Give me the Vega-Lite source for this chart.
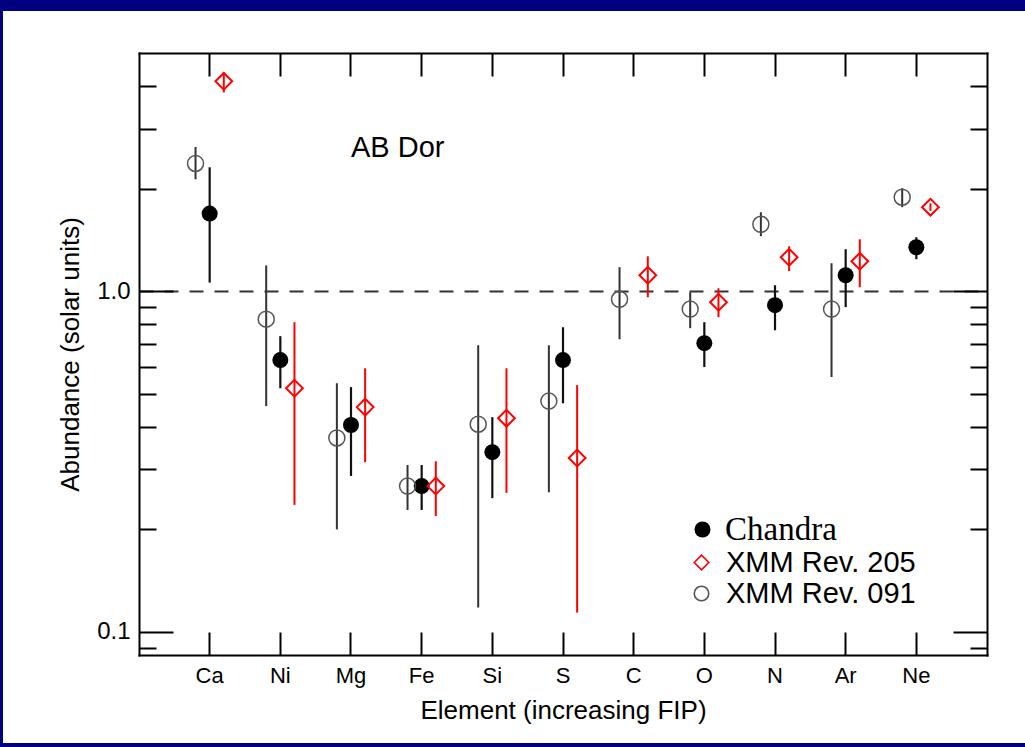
{
  "$schema": "https://vega.github.io/schema/vega-lite/v6.json",
  "width": 1022,
  "height": 732,
  "autosize": "none",
  "padding": {"left": 3, "top": 11, "right": 0, "bottom": 4},
  "background": "#000080",
  "config": {
    "view": {"fill": "white", "stroke": null},
    "font": "Liberation Sans",
    "axis": {"labelColor": "black", "tickColor": "black", "domainColor": "black", "titleColor": "black", "labelFont": "Liberation Sans", "titleFont": "Liberation Sans", "titleFontWeight": "normal", "domainWidth": 2, "tickWidth": 2, "domainCap": "square", "grid": false},
    "legend": {"labelColor": "black", "labelLimit": 400, "padding": 0}
  },
  "data": {"values": [
    {"element": "Ca", "series": "Chandra", "value": 1.69, "lo": 1.06, "hi": 2.31},
    {"element": "Ca", "series": "XMM Rev. 091", "value": 2.37, "lo": 2.13, "hi": 2.65},
    {"element": "Ca", "series": "XMM Rev. 205", "value": 4.13, "lo": 3.83, "hi": 4.39},
    {"element": "Ni", "series": "Chandra", "value": 0.628, "lo": 0.519, "hi": 0.738},
    {"element": "Ni", "series": "XMM Rev. 091", "value": 0.828, "lo": 0.46, "hi": 1.19},
    {"element": "Ni", "series": "XMM Rev. 205", "value": 0.519, "lo": 0.236, "hi": 0.811},
    {"element": "Mg", "series": "Chandra", "value": 0.405, "lo": 0.287, "hi": 0.523},
    {"element": "Mg", "series": "XMM Rev. 091", "value": 0.371, "lo": 0.2, "hi": 0.537},
    {"element": "Mg", "series": "XMM Rev. 205", "value": 0.457, "lo": 0.315, "hi": 0.594},
    {"element": "Fe", "series": "Chandra", "value": 0.268, "lo": 0.228, "hi": 0.309},
    {"element": "Fe", "series": "XMM Rev. 091", "value": 0.268, "lo": 0.228, "hi": 0.309},
    {"element": "Fe", "series": "XMM Rev. 205", "value": 0.268, "lo": 0.219, "hi": 0.317},
    {"element": "Si", "series": "Chandra", "value": 0.337, "lo": 0.247, "hi": 0.427},
    {"element": "Si", "series": "XMM Rev. 091", "value": 0.407, "lo": 0.118, "hi": 0.694},
    {"element": "Si", "series": "XMM Rev. 205", "value": 0.424, "lo": 0.256, "hi": 0.594},
    {"element": "S", "series": "Chandra", "value": 0.628, "lo": 0.469, "hi": 0.784},
    {"element": "S", "series": "XMM Rev. 091", "value": 0.476, "lo": 0.257, "hi": 0.694},
    {"element": "S", "series": "XMM Rev. 205", "value": 0.324, "lo": 0.114, "hi": 0.53},
    {"element": "C", "series": "XMM Rev. 091", "value": 0.947, "lo": 0.723, "hi": 1.176},
    {"element": "C", "series": "XMM Rev. 205", "value": 1.114, "lo": 0.96, "hi": 1.266},
    {"element": "O", "series": "Chandra", "value": 0.704, "lo": 0.599, "hi": 0.811},
    {"element": "O", "series": "XMM Rev. 091", "value": 0.886, "lo": 0.779, "hi": 0.993},
    {"element": "O", "series": "XMM Rev. 205", "value": 0.928, "lo": 0.839, "hi": 1.02},
    {"element": "N", "series": "Chandra", "value": 0.91, "lo": 0.768, "hi": 1.041},
    {"element": "N", "series": "XMM Rev. 091", "value": 1.572, "lo": 1.45, "hi": 1.705},
    {"element": "N", "series": "XMM Rev. 205", "value": 1.258, "lo": 1.145, "hi": 1.355},
    {"element": "Ar", "series": "Chandra", "value": 1.114, "lo": 0.898, "hi": 1.328},
    {"element": "Ar", "series": "XMM Rev. 091", "value": 0.886, "lo": 0.56, "hi": 1.208},
    {"element": "Ar", "series": "XMM Rev. 205", "value": 1.224, "lo": 1.027, "hi": 1.42},
    {"element": "Ne", "series": "Chandra", "value": 1.346, "lo": 1.241, "hi": 1.44},
    {"element": "Ne", "series": "XMM Rev. 091", "value": 1.887, "lo": 1.764, "hi": 2.005},
    {"element": "Ne", "series": "XMM Rev. 205", "value": 1.764, "lo": 1.72, "hi": 1.81}
  ]},
  "resolve": {"axis": {"x": "independent", "y": "independent"}},
  "layer": [
    {
      "transform": [{"filter": "datum.series == 'Chandra'"}],
      "mark": {"type": "rule", "color": "#111111", "strokeWidth": 2.2},
      "encoding": {
        "x": {"field": "element", "type": "nominal", "bandPosition": 0.5,
          "scale": {"type": "band", "domain": ["Ca", "Ni", "Mg", "Fe", "Si", "S", "C", "O", "N", "Ar", "Ne"], "range": [136, 984], "paddingInner": 0, "paddingOuter": 0.5},
          "axis": {"orient": "bottom", "offset": -88, "tickSize": -23, "labelAngle": 0, "labelFontSize": 22, "labelPadding": 33, "title": "Element (increasing FIP)", "titleFontSize": 26, "titlePadding": 11}},
        "y": {"field": "lo", "type": "quantitative",
          "scale": {"type": "log", "domain": [0.0856, 5], "range": [644, 42], "nice": false},
          "axis": {"orient": "left", "offset": -136, "values": [0.1, 1], "format": ".1f", "tickSize": -34, "labelFontSize": 24, "labelPadding": 43, "title": "Abundance (solar units)", "titleFontSize": 26, "titlePadding": 13}},
        "y2": {"field": "hi"}
      }
    },
    {
      "transform": [{"filter": "datum.series == 'Chandra'"}],
      "mark": {"type": "point", "shape": "circle", "filled": true, "size": 256, "strokeWidth": 0, "opacity": 1},
      "encoding": {
        "x": {"field": "element", "type": "nominal", "bandPosition": 0.5,
          "axis": {"orient": "top", "offset": -42, "tickSize": -23, "labels": false, "title": null}},
        "y": {"field": "value", "type": "quantitative",
          "axis": {"orient": "left", "offset": -136, "values": [0.09, 0.2, 0.3, 0.4, 0.5, 0.6, 0.7, 0.8, 0.9, 2, 3, 4], "tickSize": -17, "labels": false, "domain": false, "title": null}},
        "fill": {"field": "series", "type": "nominal",
          "scale": {"domain": ["Chandra"], "range": ["black"]},
          "legend": {"orient": "none", "legendX": 683, "legendY": 502, "title": null, "labelFont": "Liberation Serif", "labelFontSize": 33, "symbolSize": 256, "labelOffset": 6}}
      }
    },
    {
      "transform": [{"filter": "datum.series == 'XMM Rev. 205'"}],
      "mark": {"type": "rule", "color": "#ff0000", "strokeWidth": 2},
      "encoding": {
        "x": {"field": "element", "type": "nominal", "bandPosition": 0.7, "axis": null},
        "y": {"field": "lo", "type": "quantitative",
          "axis": {"orient": "right", "offset": -38, "values": [0.1, 1], "tickSize": -34, "labels": false, "title": null}},
        "y2": {"field": "hi"}
      }
    },
    {
      "transform": [{"filter": "datum.series == 'XMM Rev. 205'"}],
      "mark": {"type": "point", "filled": false, "size": 280, "strokeWidth": 2, "opacity": 1},
      "encoding": {
        "x": {"field": "element", "type": "nominal", "bandPosition": 0.7, "axis": null},
        "y": {"field": "value", "type": "quantitative",
          "axis": {"orient": "right", "offset": -38, "values": [0.09, 0.2, 0.3, 0.4, 0.5, 0.6, 0.7, 0.8, 0.9, 2, 3, 4], "tickSize": -17, "labels": false, "domain": false, "title": null}},
        "shape": {"field": "series", "type": "nominal", "scale": {"domain": ["XMM Rev. 205", "XMM Rev. 091"], "range": ["diamond", "circle"]},
          "legend": {"orient": "none", "legendX": 684, "legendY": 537, "title": null, "labelFont": "Liberation Sans", "labelFontSize": 29, "symbolSize": 210, "symbolStrokeWidth": 1.6, "labelOffset": 10, "rowPadding": 1}},
        "stroke": {"field": "series", "type": "nominal", "scale": {"domain": ["XMM Rev. 205", "XMM Rev. 091"], "range": ["#ff0000", "#555555"]},
          "legend": {"orient": "none", "legendX": 684, "legendY": 537, "title": null, "labelFont": "Liberation Sans", "labelFontSize": 29, "symbolSize": 210, "symbolStrokeWidth": 1.6, "labelOffset": 10, "rowPadding": 1}}
      }
    },
    {
      "transform": [{"filter": "datum.series == 'XMM Rev. 091'"}],
      "mark": {"type": "rule", "color": "#333333", "strokeWidth": 2},
      "encoding": {
        "x": {"field": "element", "type": "nominal", "bandPosition": 0.3, "axis": null},
        "y": {"field": "lo", "type": "quantitative",
          "axis": {"orient": "left", "offset": -136, "values": [1], "grid": true, "gridDash": [14, 11], "gridColor": "#333333", "gridWidth": 2, "gridOpacity": 1, "ticks": false, "labels": false, "domain": false, "title": null}},
        "y2": {"field": "hi"}
      }
    },
    {
      "transform": [{"filter": "datum.series == 'XMM Rev. 091'"}],
      "mark": {"type": "point", "filled": false, "size": 256, "strokeWidth": 1.5, "opacity": 1},
      "encoding": {
        "x": {"field": "element", "type": "nominal", "bandPosition": 0.3, "axis": null},
        "y": {"field": "value", "type": "quantitative", "axis": null},
        "shape": {"field": "series", "type": "nominal", "scale": {"domain": ["XMM Rev. 205", "XMM Rev. 091"], "range": ["diamond", "circle"]},
          "legend": {"orient": "none", "legendX": 684, "legendY": 537, "title": null, "labelFont": "Liberation Sans", "labelFontSize": 29, "symbolSize": 210, "symbolStrokeWidth": 1.6, "labelOffset": 10, "rowPadding": 1}},
        "stroke": {"field": "series", "type": "nominal", "scale": {"domain": ["XMM Rev. 205", "XMM Rev. 091"], "range": ["#ff0000", "#555555"]},
          "legend": {"orient": "none", "legendX": 684, "legendY": 537, "title": null, "labelFont": "Liberation Sans", "labelFontSize": 29, "symbolSize": 210, "symbolStrokeWidth": 1.6, "labelOffset": 10, "rowPadding": 1}}
      }
    },
    {
      "data": {"values": [{"label": "AB Dor"}]},
      "mark": {"type": "text", "align": "left", "baseline": "middle", "fontSize": 29, "font": "Liberation Sans", "color": "black"},
      "encoding": {
        "x": {"datum": "Mg", "type": "nominal", "axis": null},
        "y": {"datum": 2.64, "type": "quantitative", "axis": null},
        "text": {"field": "label"}
      }
    }
  ]
}
